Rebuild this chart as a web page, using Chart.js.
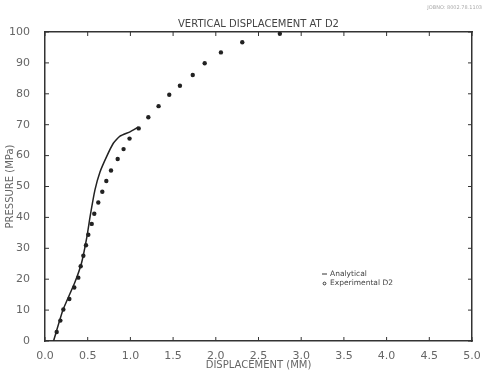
<!DOCTYPE html>
<html>
<head>
<meta charset="utf-8">
<script src="https://cdn.jsdelivr.net/npm/chart.js@4"></script>
<style>
  html, body { margin: 0; padding: 0; background: #fff; }
  #wrap { width: 484px; height: 371px; }
</style>
</head>
<body>
<div id="wrap"><canvas id="dispChart" width="484" height="371"></canvas></div>
<script>
// values (displacement in mm, pressure in MPa)
const expDisp = [0.137, 0.18, 0.215, 0.285, 0.343, 0.39, 0.418, 0.449, 0.48, 0.507, 0.547, 0.577,
                 0.624, 0.671, 0.718, 0.773, 0.851, 0.92, 0.99, 1.097, 1.21, 1.33, 1.455, 1.58,
                 1.73, 1.87, 2.06, 2.31, 2.75];
const expPress = [2.9, 6.6, 10.2, 13.6, 17.3, 20.5, 24.2, 27.6, 31, 34.4, 37.9, 41.2,
                  44.8, 48.3, 51.8, 55.2, 58.9, 62.1, 65.5, 68.8, 72.4, 76, 79.7, 82.6,
                  86.1, 89.9, 93.4, 96.7, 99.4];
const anaDisp = [0.1, 0.21, 0.35, 0.43, 0.49, 0.527, 0.585, 0.644, 0.72, 0.8, 0.878, 0.995, 1.09];
const anaPress = [0, 10, 19, 25.5, 33.6, 40.1, 48.9, 54.7, 59.6, 64, 66.3, 67.7, 69.2];
const xTicks = [0, 0.5, 1, 1.5, 2, 2.5, 3, 3.5, 4, 4.5, 5];
const yTicks = [0, 10, 20, 30, 40, 50, 60, 70, 80, 90, 100];

const ink = '#333';
const txt = '#666';
const font = 'DejaVu Sans';

// short tick marks pointing into the plot, like the original plotter output
const inwardTicks = {
  id: 'inwardTicks',
  afterDraw(chart) {
    const ctx = chart.ctx;
    const a = chart.chartArea;
    const len = 4;
    ctx.save();
    ctx.strokeStyle = ink;
    ctx.lineWidth = 1;
    ctx.beginPath();
    xTicks.forEach(v => {
      const px = chart.scales.x.getPixelForValue(v);
      ctx.moveTo(px, a.bottom); ctx.lineTo(px, a.bottom - len);
      ctx.moveTo(px, a.top); ctx.lineTo(px, a.top + len);
    });
    yTicks.forEach(v => {
      const py = chart.scales.y.getPixelForValue(v);
      ctx.moveTo(a.left, py); ctx.lineTo(a.left + len, py);
      ctx.moveTo(a.right, py); ctx.lineTo(a.right - len, py);
    });
    ctx.stroke();

    // title
    ctx.fillStyle = '#444';
    ctx.font = '10px ' + font;
    ctx.textAlign = 'center';
    ctx.textBaseline = 'bottom';
    ctx.fillText('VERTICAL DISPLACEMENT AT D2', (a.left + a.right) / 2, a.top - 3);

    // faint job stamp at top right
    ctx.fillStyle = '#aaa';
    ctx.font = '5px ' + font;
    ctx.textAlign = 'right';
    ctx.fillText('JOBNO: 8002.78.1103', 482, 10);

    // legend inside plot
    const ds = chart.data.datasets;
    const lx = a.left + 277, ly = a.top + 242;
    ctx.font = '7.5px ' + font;
    ctx.textAlign = 'left';
    ctx.textBaseline = 'middle';
    ctx.fillStyle = '#444';
    ctx.beginPath();
    ctx.moveTo(lx, ly); ctx.lineTo(lx + 5, ly);
    ctx.stroke();
    ctx.fillText(ds[0].label, lx + 8, ly);
    ctx.beginPath();
    ctx.arc(lx + 2.5, ly + 9.5, 1.4, 0, Math.PI * 2);
    ctx.stroke();
    ctx.fillText(ds[1].label, lx + 8, ly + 9.5);
    ctx.restore();
  }
};

const ctx = document.getElementById('dispChart').getContext('2d');
new Chart(ctx, {
  type: 'scatter',
  data: {
    datasets: [
      {
        label: 'Analytical',
        data: anaDisp.map((d, i) => ({ x: d, y: anaPress[i] })),
        showLine: true,
        borderColor: '#222',
        borderWidth: 1.5,
        pointRadius: 0,
        tension: 0.15
      },
      {
        label: 'Experimental D2',
        data: expDisp.map((d, i) => ({ x: d, y: expPress[i] })),
        showLine: false,
        backgroundColor: '#222',
        borderColor: '#222',
        pointRadius: 2.2,
        borderWidth: 0
      }
    ]
  },
  options: {
    responsive: false,
    animation: false,
    layout: { padding: 0 },
    plugins: {
      legend: { display: false },
      title: { display: false },
      tooltip: { enabled: false }
    },
    scales: {
      x: {
        type: 'linear', position: 'bottom', min: 0, max: 5,
        afterBuildTicks: s => { s.ticks = xTicks.map(v => ({ value: v })); },
        afterFit: s => { s.height = 30; },
        grid: { display: false },
        border: { display: true, color: ink, width: 1.5 },
        ticks: {
          color: txt, font: { family: font, size: 11 }, padding: 1, maxRotation: 0,
          callback: v => v.toFixed(1)
        },
        title: {
          display: true, text: 'DISPLACEMENT (MM)', color: txt,
          font: { family: font, size: 10 }, padding: { top: -3, bottom: 0 }
        }
      },
      x2: {
        type: 'linear', position: 'top', min: 0, max: 5,
        afterFit: s => { s.height = 32; },
        grid: { display: false },
        border: { display: true, color: ink, width: 1.5 },
        ticks: { display: false }
      },
      y: {
        type: 'linear', position: 'left', min: 0, max: 100,
        afterBuildTicks: s => { s.ticks = yTicks.map(v => ({ value: v })); },
        afterFit: s => { s.width = 45; },
        grid: { display: false },
        border: { display: true, color: ink, width: 1.5 },
        ticks: { color: txt, font: { family: font, size: 11 }, padding: 7 },
        title: {
          display: true, text: 'PRESSURE (MPa)', color: txt,
          font: { family: font, size: 10 }, padding: { top: 4, bottom: 0 }
        }
      },
      y2: {
        type: 'linear', position: 'right', min: 0, max: 100,
        afterFit: s => { s.width = 12; },
        grid: { display: false },
        border: { display: true, color: ink, width: 1.5 },
        ticks: { display: false }
      }
    }
  },
  plugins: [inwardTicks]
});
</script>
</body>
</html>
